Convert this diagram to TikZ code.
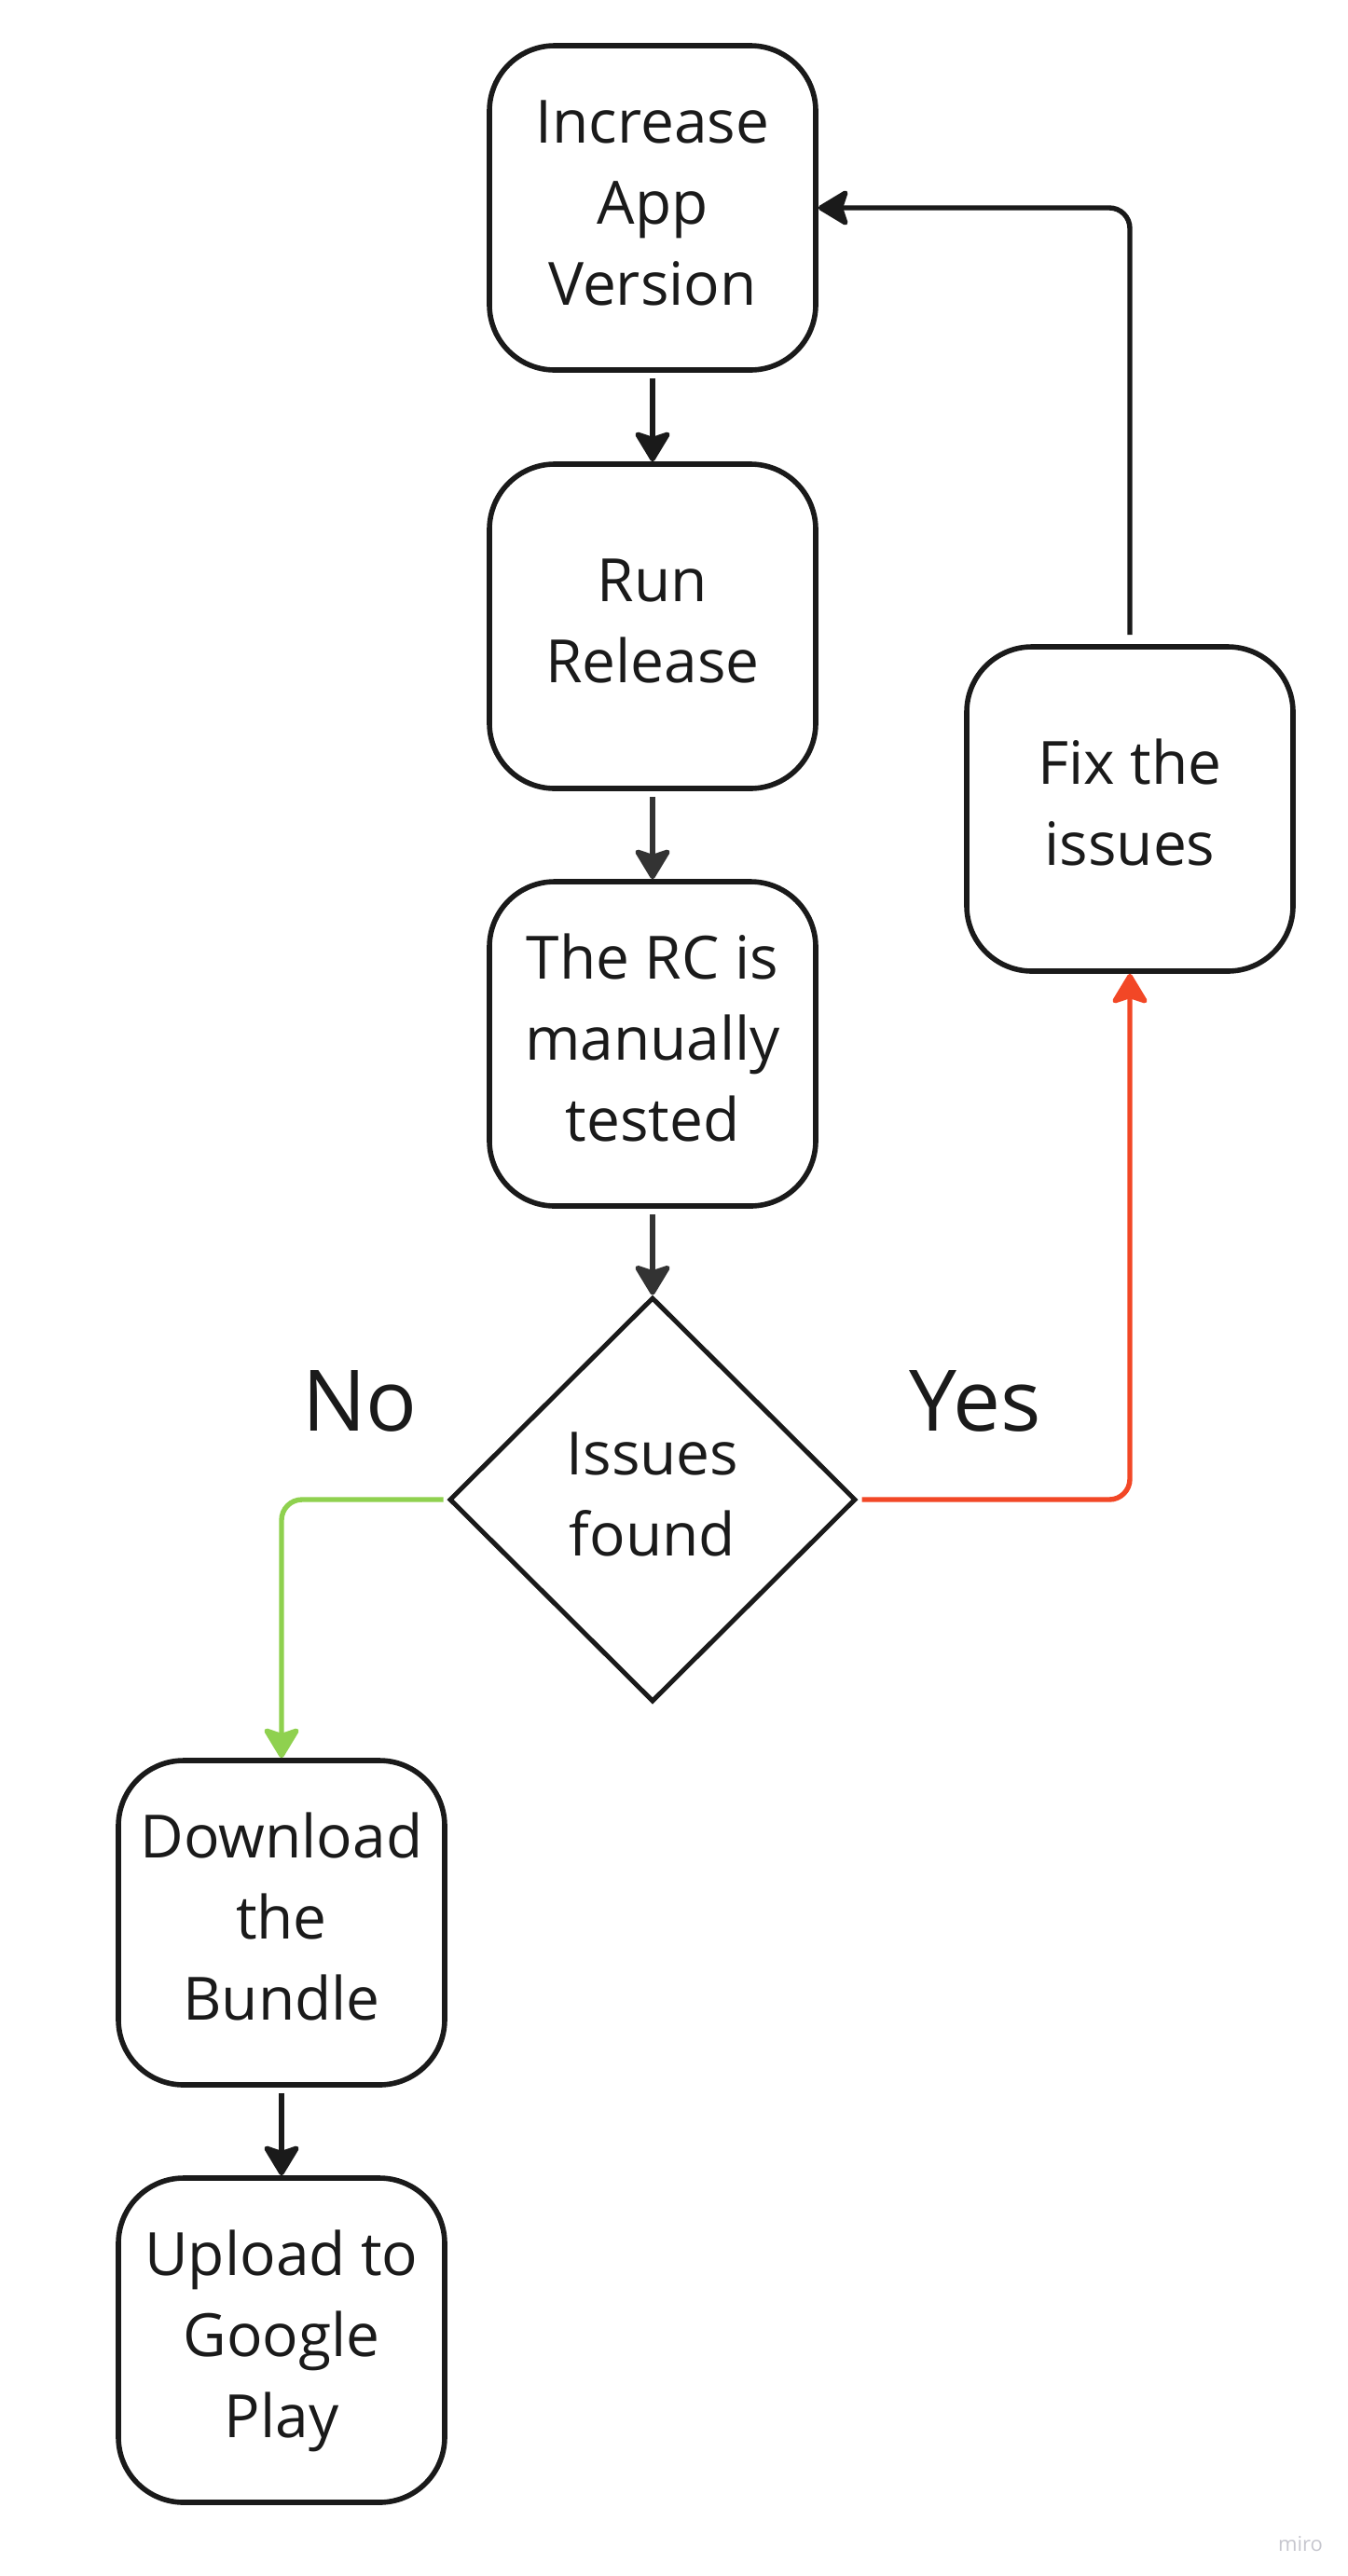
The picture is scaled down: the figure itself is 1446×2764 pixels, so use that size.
\documentclass[tikz,border=0pt]{standalone}
\usepackage{fontspec}
\setmainfont{Open Sans}
\usetikzlibrary{shapes.geometric,arrows.meta}
\definecolor{ink}{HTML}{1A1A1A}
\definecolor{ink2}{HTML}{333333}
\definecolor{okgreen}{HTML}{8FD14F}
\definecolor{badred}{HTML}{F24726}
\definecolor{wm}{HTML}{C6C6CE}
\newcommand\boxlines[1]{\begin{tabular}{@{}c@{}}#1\end{tabular}}
\begin{document}
\begin{tikzpicture}[x=0.5pt,y=-0.5pt,
  box/.style={draw=ink, line width=2.8pt, rounded corners=35pt,
    minimum width=175pt, minimum height=174pt, align=center, text=ink,
    font=\fontsize{32pt}{43.5pt}\selectfont, inner sep=0pt},
  decision/.style={diamond, draw=ink, line width=2.5pt, minimum width=218pt,
    minimum height=217pt, align=center, text=ink, inner sep=0pt,
    font=\fontsize{32pt}{43.5pt}\selectfont},
  lab/.style={text=ink, font=\fontsize{45.5pt}{50pt}\selectfont, inner sep=0pt},
  arr/.style={line width=2.7pt, -{Stealth[length=18pt, width=21.5pt, inset=3.5pt, round]},
    shorten <=3pt},
  elbow/.style={rounded corners=11pt}
]
\useasboundingbox (0,0) rectangle (1446,2764);
\fill[white] (0,0) rectangle (1446,2764);

\node[box] (inc) at (700,223) {\boxlines{Increase\\App\\Version}};
\node[box] (run) at (700,672) {\boxlines{Run\\Release}};
\node[box] (rc) at (700,1120) {\boxlines{The RC is\\manually\\tested}};
\node[decision] (iss) at (700,1609) {\boxlines{Issues\\found}};
\node[box] (fix) at (1212,868) {\boxlines{Fix the\\issues}};
\node[box] (dl) at (302,2063) {\boxlines{Download\\the\\Bundle}};
\node[box] (up) at (302,2511) {\boxlines{Upload to\\Google\\Play}};

\node[lab] (no) at (386,1503) {No};
\node[lab] (yes) at (1046,1503) {Yes};
\node[text=wm, font=\fontsize{11pt}{12pt}\selectfont, inner sep=0pt] (miro) at (1395,2729) {miro};

\draw[arr, draw=ink] (inc) -- (run);
\draw[arr, draw=ink2] (run) -- (rc);
\draw[arr, draw=ink2] (rc) -- (iss);
\draw[arr, elbow, draw=okgreen, shorten <=2pt] (iss.west) -| (dl.north);
\draw[arr, elbow, draw=badred, shorten <=2pt] (iss.east) -| (fix.south);
\draw[arr, elbow, draw=ink, shorten <=5pt] (fix.north) |- (inc.east);
\draw[arr, draw=ink] (dl) -- (up);
\end{tikzpicture}
\end{document}
